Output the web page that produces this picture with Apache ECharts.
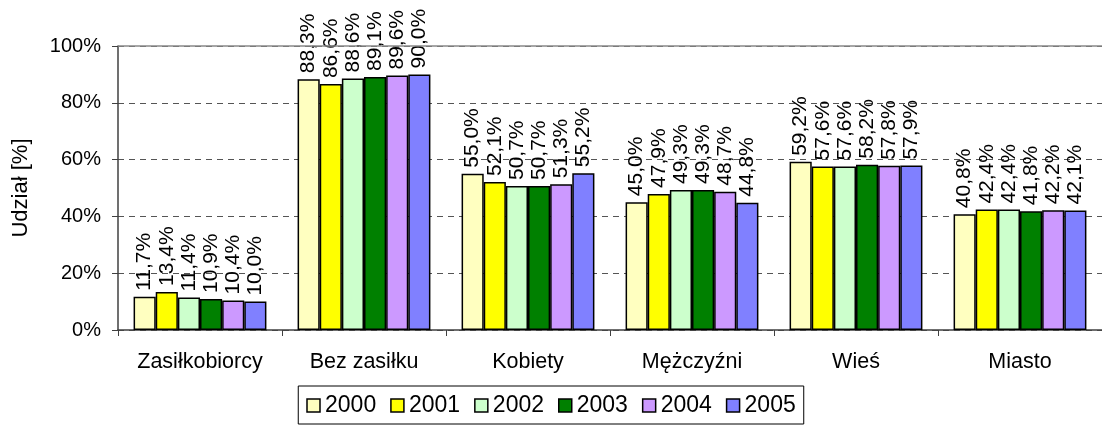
<!DOCTYPE html>
<html>
<head>
<meta charset="utf-8">
<script src="https://cdn.jsdelivr.net/npm/echarts@6/dist/echarts.min.js"></script>
<style>
  html, body { margin: 0; padding: 0; background: #fff; }
  #main { width: 1102px; height: 429px; }
</style>
</head>
<body>
<div id="main"></div>
<script>
const categories = ["Zasiłkobiorcy", "Bez zasiłku", "Kobiety", "Mężczyźni", "Wieś", "Miasto"]
const years = ["2000", "2001", "2002", "2003", "2004", "2005"]
const colors = ["#FFFFC0", "#FFFF00", "#CCFFCC", "#008000", "#CC99FF", "#8080FF"]
const values2000 = [11.7, 88.3, 55.0, 45.0, 59.2, 40.8]
const values2001 = [13.4, 86.6, 52.1, 47.9, 57.6, 42.4]
const values2002 = [11.4, 88.6, 50.7, 49.3, 57.6, 42.4]
const values2003 = [10.9, 89.1, 50.7, 49.3, 58.2, 41.8]
const values2004 = [10.4, 89.6, 51.3, 48.7, 57.8, 42.2]
const values2005 = [10.0, 90.0, 55.2, 44.8, 57.9, 42.1]
const yTicks = [0, 20, 40, 60, 80, 100]

const allValues = [values2000, values2001, values2002, values2003, values2004, values2005]
const font = "Liberation Sans, Arial, sans-serif"

const chart = echarts.init(document.getElementById("main"))

const series = years.map((y, i) => ({
  name: y,
  type: "bar",
  data: allValues[i],
  barGap: "0%",
  barCategoryGap: "19%",
  itemStyle: { color: colors[i], borderColor: "#000", borderWidth: 1.5 },
  label: {
    show: true,
    position: "top",
    rotate: 90,
    align: "left",
    verticalAlign: "middle",
    distance: 6,
    fontFamily: font,
    fontSize: 21,
    color: "#000",
    formatter: p => p.value.toFixed(1).replace(".", ",") + "%"
  },
  markLine: i === 0 ? {
    silent: true,
    symbol: "none",
    label: { show: false },
    lineStyle: { color: "#888", type: "solid", width: 1.5 },
    data: [{ yAxis: yTicks[yTicks.length - 1] }]
  } : undefined
}))

const option = {
  animation: false,
  grid: { left: 118, right: -8, top: 46, bottom: 99, containLabel: false },
  legend: {
    data: years,
    left: "center",
    top: 386,
    itemWidth: 13,
    itemHeight: 13,
    itemGap: 14,
    padding: [8, 8, 7, 8],
    borderColor: "#000",
    borderWidth: 1,
    textStyle: { fontFamily: font, fontSize: 23, color: "#000" },
    itemStyle: { borderColor: "#000", borderWidth: 1.5 },
    icon: "rect"
  },
  xAxis: {
    type: "category",
    data: categories,
    axisLine: { lineStyle: { color: "#404040", width: 1.5 } },
    axisTick: { show: true, length: 6, lineStyle: { color: "#404040" } },
    axisLabel: { fontFamily: font, fontSize: 21.5, color: "#000", margin: 21 }
  },
  yAxis: {
    type: "value",
    min: 0,
    max: 100,
    interval: 20,
    name: "Udział [%]",
    nameLocation: "middle",
    nameGap: 86,
    nameTextStyle: { fontFamily: font, fontSize: 22, color: "#000" },
    axisLine: { show: true, lineStyle: { color: "#404040", width: 1.5 } },
    axisTick: { show: true, length: 6, lineStyle: { color: "#404040" } },
    axisLabel: { fontFamily: font, fontSize: 20, color: "#000", margin: 17, formatter: "{value}%" },
    splitLine: { lineStyle: { color: "#555", type: [6, 5], width: 1 } }
  },
  series: series
}

chart.setOption(option)
</script>
</body>
</html>
